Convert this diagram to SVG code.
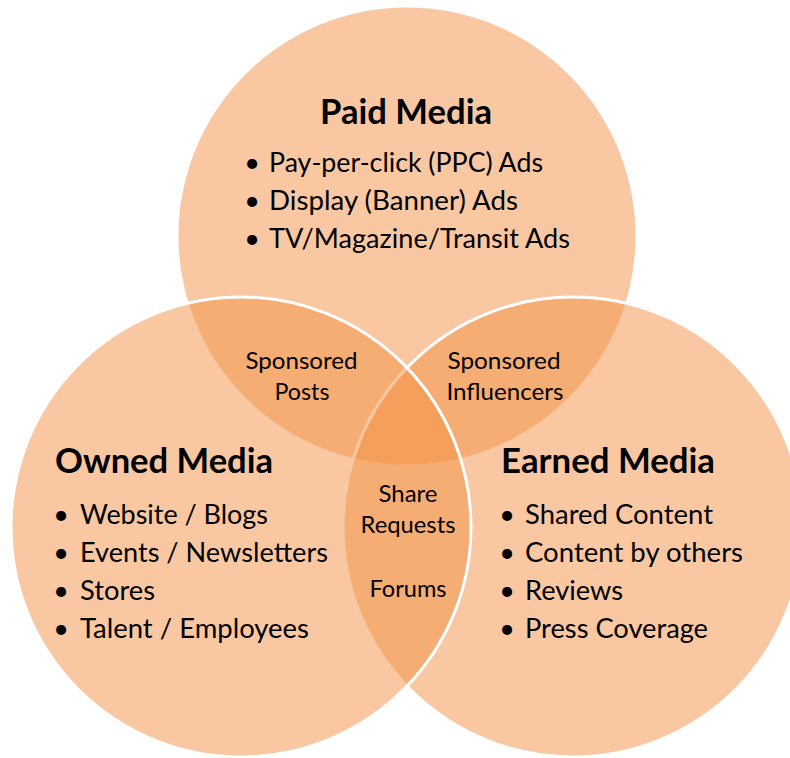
<svg xmlns="http://www.w3.org/2000/svg" width="790" height="758" viewBox="0 0 790 758">
<style>
.c{fill:#F39145;fill-opacity:0.5;stroke:#FFFFFF;stroke-width:3}
text{font-family:Lato,"Open Sans","Liberation Sans",sans-serif;fill:#000}
.h{font-size:35px;font-weight:bold}
.b{font-size:27px}
.d{font-size:27px;text-anchor:middle}
.l{font-size:24px;text-anchor:middle}
</style>
<rect width="790" height="758" fill="#FFFFFF"/>
<g id="paid">
<circle class="c" cx="407" cy="236" r="230"/>
</g>
<g id="earned">
<circle class="c" cx="573" cy="527" r="230"/>
</g>
<g id="owned">
<circle class="c" cx="241" cy="527" r="230"/>
</g>
<g id="paid-text">
<text class="h" x="320" y="124" textLength="172" lengthAdjust="spacingAndGlyphs">Paid Media</text>
<text class="d" x="252" y="172">•</text>
<text class="b" x="269" y="172" textLength="274" lengthAdjust="spacingAndGlyphs">Pay-per-click (PPC) Ads</text>
<text class="d" x="252" y="210">•</text>
<text class="b" x="269" y="210" textLength="249" lengthAdjust="spacingAndGlyphs">Display (Banner) Ads</text>
<text class="d" x="252" y="248">•</text>
<text class="b" x="269" y="248" textLength="301" lengthAdjust="spacingAndGlyphs">TV/Magazine/Transit Ads</text>
</g>
<g id="owned-text">
<text class="h" x="55" y="473" textLength="218" lengthAdjust="spacingAndGlyphs">Owned Media</text>
<text class="d" x="61" y="524">•</text>
<text class="b" x="80" y="524" textLength="188" lengthAdjust="spacingAndGlyphs">Website / Blogs</text>
<text class="d" x="61" y="562">•</text>
<text class="b" x="80" y="562" textLength="248" lengthAdjust="spacingAndGlyphs">Events / Newsletters</text>
<text class="d" x="61" y="600">•</text>
<text class="b" x="80" y="600" textLength="75" lengthAdjust="spacingAndGlyphs">Stores</text>
<text class="d" x="61" y="638">•</text>
<text class="b" x="80" y="638" textLength="229" lengthAdjust="spacingAndGlyphs">Talent / Employees</text>
</g>
<g id="earned-text">
<text class="h" x="501" y="473" textLength="214" lengthAdjust="spacingAndGlyphs">Earned Media</text>
<text class="d" x="507" y="524">•</text>
<text class="b" x="525" y="524" textLength="188" lengthAdjust="spacingAndGlyphs">Shared Content</text>
<text class="d" x="507" y="562">•</text>
<text class="b" x="525" y="562" textLength="218" lengthAdjust="spacingAndGlyphs">Content by others</text>
<text class="d" x="507" y="600">•</text>
<text class="b" x="525" y="600" textLength="98" lengthAdjust="spacingAndGlyphs">Reviews</text>
<text class="d" x="507" y="638">•</text>
<text class="b" x="525" y="638" textLength="183" lengthAdjust="spacingAndGlyphs">Press Coverage</text>
</g>
<g id="paid-owned">
<text class="l" x="301.5" y="369" textLength="112" lengthAdjust="spacingAndGlyphs">Sponsored</text>
<text class="l" x="302" y="400" textLength="55" lengthAdjust="spacingAndGlyphs">Posts</text>
</g>
<g id="paid-earned">
<text class="l" x="504" y="369" textLength="113" lengthAdjust="spacingAndGlyphs">Sponsored</text>
<text class="l" x="505" y="400" textLength="117" lengthAdjust="spacingAndGlyphs">Influencers</text>
</g>
<g id="owned-earned">
<text class="l" x="408" y="502" textLength="59" lengthAdjust="spacingAndGlyphs">Share</text>
<text class="l" x="408" y="533" textLength="95" lengthAdjust="spacingAndGlyphs">Requests</text>
<text class="l" x="408" y="597" textLength="77" lengthAdjust="spacingAndGlyphs">Forums</text>
</g>
</svg>
